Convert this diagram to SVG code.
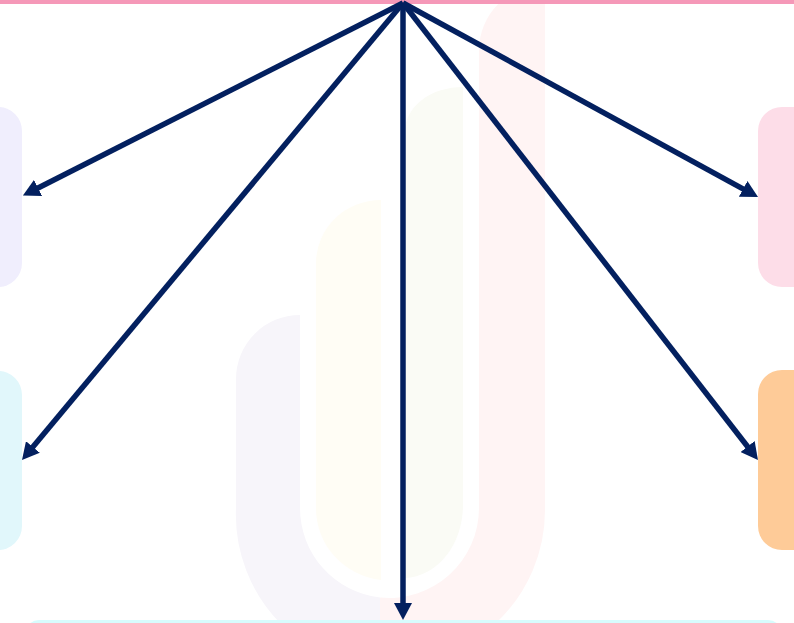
<svg xmlns="http://www.w3.org/2000/svg" width="794" height="623" viewBox="0 0 794 623">
  <defs>
    <style>
      .conn { fill: none; stroke: #03205f; stroke-width: 5.5; marker-end: url(#arrow); }
      .box { stroke: none; }
    </style>
    <marker id="arrow" markerUnits="userSpaceOnUse" markerWidth="17" markerHeight="18" refX="5" refY="9" orient="auto">
      <path d="M0,0 L17,9 L0,18 Z" fill="#03205f"/>
    </marker>
  </defs>
  <rect width="794" height="623" fill="#ffffff"/>
  <g id="watermark">
    <path d="M300,315 L300,508 A90,90 0 0 0 380,597.5 L380,623 L280,623 A155,155 0 0 1 236,508 L236,379 A64,64 0 0 1 300,315 Z" fill="#f7f5fa"/>
    <path d="M545,-15 L545,508 A155,155 0 0 1 496,623 L380,623 L380,597.5 A90,90 0 0 0 479,508 L479,50 A66,65 0 0 1 545,-15 Z" fill="#fff4f4"/>
    <path d="M381,200 L381,580 A74,72 0 0 1 316,508 L316,263 A65,63 0 0 1 381,200 Z" fill="#fffdf5"/>
    <path d="M463,87 L463,505 A60,73 0 0 1 405,578 L405,131 A58,44 0 0 1 463,87 Z" fill="#fafbf5"/>
  </g>
  <g id="node-top">
    <rect x="0" y="-20" width="794" height="24" fill="#f598b8"/>
  </g>
  <g id="node-left-1">
    <rect class="box" x="-80" y="107" width="102" height="180" rx="24" fill="#f0eefd"/>
  </g>
  <g id="node-left-2">
    <rect class="box" x="-80" y="371" width="102" height="179" rx="24" fill="#e1f7fb"/>
  </g>
  <g id="node-right-1">
    <rect class="box" x="758" y="107" width="100" height="180" rx="24" fill="#fddde8"/>
  </g>
  <g id="node-right-2">
    <rect class="box" x="758" y="370" width="100" height="180" rx="24" fill="#fecb98"/>
  </g>
  <g id="node-bottom">
    <rect class="box" x="25" y="620" width="757" height="60" rx="14" fill="#d7fcfd"/>
  </g>
  <g id="connectors">
    <line class="conn" x1="403" y1="3" x2="33.6" y2="190.2"/>
    <line class="conn" x1="403" y1="3" x2="29.7" y2="450.8"/>
    <line class="conn" x1="403" y1="3" x2="403" y2="608"/>
    <line class="conn" x1="403" y1="3" x2="747.5" y2="191.3"/>
    <line class="conn" x1="403" y1="3" x2="750.6" y2="450.5"/>
  </g>
</svg>
